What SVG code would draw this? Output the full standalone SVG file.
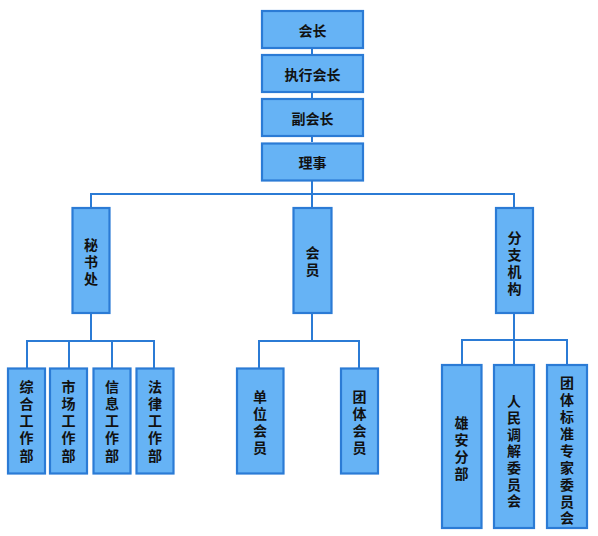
<svg xmlns="http://www.w3.org/2000/svg" width="598" height="536" viewBox="0 0 598 536">
<style>
.box{fill:#66B3F5;stroke:#2B7BD5;stroke-width:2.2}
.t{font-family:"Noto Sans CJK SC","Noto Sans",sans-serif;font-size:14px;font-weight:bold;fill:#111;text-anchor:middle;dominant-baseline:central}
.c{fill:none;stroke:#2B7BD5;stroke-width:2}
</style>
<rect width="598" height="536" fill="#ffffff"/>
<g id="connectors">
<path class="c" d="M312,48V54M312,92V98M312,136V142M312,181V194"/>
<path class="c" d="M91,207V194H514V207M312,194V207"/>
<path class="c" d="M91,313V341M27,368V341H154V368M69,341V368M112,341V368"/>
<path class="c" d="M312,313V341M259,368V341H359V368"/>
<path class="c" d="M514,313V340M462,364V340H567V364M514,340V364"/>
</g>
<g id="n-huizhang"><rect class="box" x="262" y="11" width="101" height="37"/><text class="t" x="312.5" y="29.5">会长</text></g>
<g id="n-zhixing"><rect class="box" x="262" y="55" width="101" height="37"/><text class="t" x="312.5" y="73.5">执行会长</text></g>
<g id="n-fuhuizhang"><rect class="box" x="262" y="99" width="101" height="37"/><text class="t" x="312.5" y="117.5">副会长</text></g>
<g id="n-lishi"><rect class="box" x="262" y="143.5" width="101" height="37"/><text class="t" x="312.5" y="162">理事</text></g>

<g id="n-mishuchu"><rect class="box" x="72.5" y="208" width="37" height="105"/><text class="t" x="91"><tspan x="91" y="244">秘</tspan><tspan x="91" y="261">书</tspan><tspan x="91" y="278">处</tspan></text></g>
<g id="n-huiyuan"><rect class="box" x="293.5" y="208" width="38" height="105"/><text class="t"><tspan x="312.5" y="252">会</tspan><tspan x="312.5" y="269">员</tspan></text></g>
<g id="n-fenzhi"><rect class="box" x="496" y="208" width="37" height="105"/><text class="t"><tspan x="514.5" y="237">分</tspan><tspan x="514.5" y="254">支</tspan><tspan x="514.5" y="271">机</tspan><tspan x="514.5" y="288">构</tspan></text></g>

<g id="n-zonghe"><rect class="box" x="8" y="368.5" width="37" height="105"/><text class="t"><tspan x="26.5" y="386">综</tspan><tspan x="26.5" y="403">合</tspan><tspan x="26.5" y="420">工</tspan><tspan x="26.5" y="437">作</tspan><tspan x="26.5" y="455">部</tspan></text></g>
<g id="n-shichang"><rect class="box" x="50" y="368.5" width="37" height="105"/><text class="t"><tspan x="68.5" y="386">市</tspan><tspan x="68.5" y="403">场</tspan><tspan x="68.5" y="420">工</tspan><tspan x="68.5" y="437">作</tspan><tspan x="68.5" y="455">部</tspan></text></g>
<g id="n-xinxi"><rect class="box" x="93.5" y="368.5" width="37" height="105"/><text class="t"><tspan x="112" y="386">信</tspan><tspan x="112" y="403">息</tspan><tspan x="112" y="420">工</tspan><tspan x="112" y="437">作</tspan><tspan x="112" y="455">部</tspan></text></g>
<g id="n-falv"><rect class="box" x="136.5" y="368.5" width="37" height="105"/><text class="t"><tspan x="155" y="386">法</tspan><tspan x="155" y="403">律</tspan><tspan x="155" y="420">工</tspan><tspan x="155" y="437">作</tspan><tspan x="155" y="455">部</tspan></text></g>

<g id="n-danwei"><rect class="box" x="237" y="368.5" width="46.5" height="105"/><text class="t"><tspan x="260" y="396">单</tspan><tspan x="260" y="413">位</tspan><tspan x="260" y="430">会</tspan><tspan x="260" y="447">员</tspan></text></g>
<g id="n-tuanti"><rect class="box" x="341" y="368.5" width="37" height="105"/><text class="t"><tspan x="359.5" y="396">团</tspan><tspan x="359.5" y="413">体</tspan><tspan x="359.5" y="430">会</tspan><tspan x="359.5" y="447">员</tspan></text></g>

<g id="n-xiongan"><rect class="box" x="442" y="365" width="39.5" height="163"/><text class="t"><tspan x="461.5" y="422">雄</tspan><tspan x="461.5" y="439">安</tspan><tspan x="461.5" y="456">分</tspan><tspan x="461.5" y="473">部</tspan></text></g>
<g id="n-renmin"><rect class="box" x="494" y="365" width="40" height="163"/><text class="t"><tspan x="514" y="400">人</tspan><tspan x="514" y="417">民</tspan><tspan x="514" y="433.5">调</tspan><tspan x="514" y="450">解</tspan><tspan x="514" y="467">委</tspan><tspan x="514" y="483.5">员</tspan><tspan x="514" y="500">会</tspan></text></g>
<g id="n-biaozhun"><rect class="box" x="547" y="365" width="40" height="163"/><text class="t"><tspan x="567" y="382">团</tspan><tspan x="567" y="399">体</tspan><tspan x="567" y="416">标</tspan><tspan x="567" y="433">准</tspan><tspan x="567" y="450">专</tspan><tspan x="567" y="467">家</tspan><tspan x="567" y="484">委</tspan><tspan x="567" y="501">员</tspan><tspan x="567" y="517">会</tspan></text></g>
</svg>
